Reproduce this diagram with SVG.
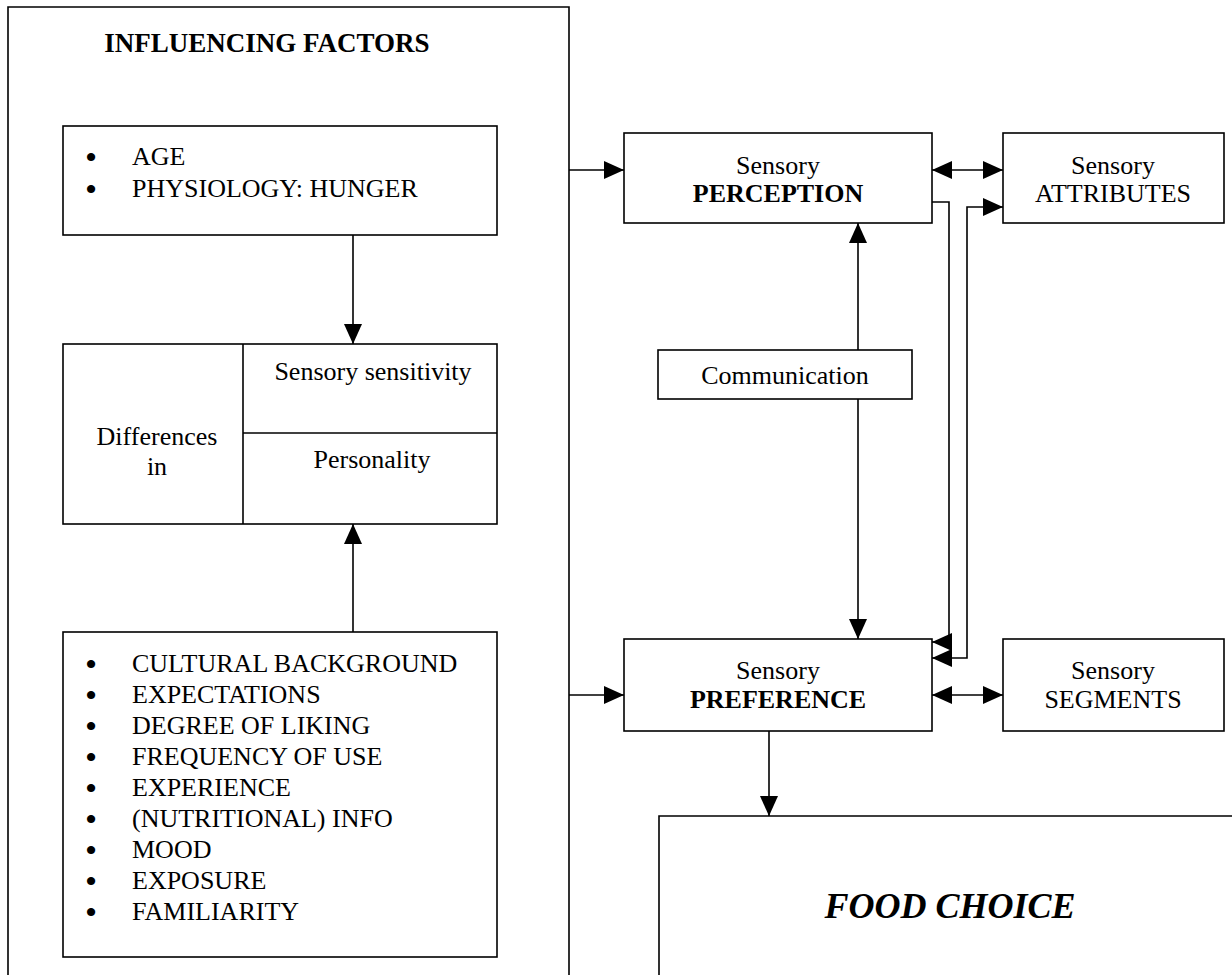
<svg xmlns="http://www.w3.org/2000/svg" width="1232" height="975" viewBox="0 0 1232 975">
  <style>
    .box { fill: #fff; stroke: #000; stroke-width: 1.6; }
    .open { fill: none; stroke: #000; stroke-width: 1.6; }
    .line { fill: none; stroke: #000; stroke-width: 1.6; }
    .t { font-family: "Liberation Serif", "Times New Roman", serif; font-size: 26px; fill: #000; }
    .dot { font-family: "Liberation Serif", "Times New Roman", serif; font-size: 26px; fill: #000; stroke: #000; stroke-width: 2; text-anchor: middle; }
    .c { text-anchor: middle; }
    .b { font-weight: bold; }
    .big { font-size: 36px; font-weight: bold; font-style: italic; }
  </style>
  <defs>
    <marker id="arrow" markerUnits="userSpaceOnUse" markerWidth="21" markerHeight="19" refX="20" refY="9" orient="auto-start-reverse">
      <path d="M0,0 L20,9 L0,18 Z" fill="#000"/>
    </marker>
  </defs>

  <!-- left panel: influencing factors (open at the bottom) -->
  <g id="influencing-factors">
    <path class="open" d="M8,975 V7 H569 V975"/>
    <text class="t b c" x="267" y="52" style="font-size:27px">INFLUENCING FACTORS</text>
  </g>

  <g id="age-physiology">
    <rect class="box" x="63" y="126" width="434" height="109"/>
    <text class="dot" x="91" y="166">•</text>
    <text class="t" x="132" y="165">AGE</text>
    <text class="dot" x="91" y="198">•</text>
    <text class="t" x="132" y="197">PHYSIOLOGY: HUNGER</text>
  </g>

  <g id="differences">
    <rect class="box" x="63" y="344" width="434" height="180"/>
    <line class="line" x1="243" y1="344" x2="243" y2="524"/>
    <line class="line" x1="243" y1="433" x2="497" y2="433"/>
    <text class="t c" x="157" y="445">Differences</text>
    <text class="t c" x="157" y="475">in</text>
    <text class="t c" x="373" y="380">Sensory sensitivity</text>
    <text class="t c" x="372" y="468">Personality</text>
  </g>

  <g id="background-factors">
    <rect class="box" x="63" y="632" width="434" height="325"/>
    <g>
      <text class="dot" x="91" y="673">•</text>
      <text class="dot" x="91" y="704">•</text>
      <text class="dot" x="91" y="735">•</text>
      <text class="dot" x="91" y="766">•</text>
      <text class="dot" x="91" y="797">•</text>
      <text class="dot" x="91" y="828">•</text>
      <text class="dot" x="91" y="859">•</text>
      <text class="dot" x="91" y="890">•</text>
      <text class="dot" x="91" y="921">•</text>
    </g>
    <g class="t">
      <text x="132" y="672">CULTURAL BACKGROUND</text>
      <text x="132" y="703">EXPECTATIONS</text>
      <text x="132" y="734">DEGREE OF LIKING</text>
      <text x="132" y="765">FREQUENCY OF USE</text>
      <text x="132" y="796">EXPERIENCE</text>
      <text x="132" y="827">(NUTRITIONAL) INFO</text>
      <text x="132" y="858">MOOD</text>
      <text x="132" y="889">EXPOSURE</text>
      <text x="132" y="920">FAMILIARITY</text>
    </g>
  </g>

  <g id="perception">
    <rect class="box" x="624" y="133" width="308" height="90"/>
    <text class="t c" x="778" y="174">Sensory</text>
    <text class="t c b" x="778" y="202">PERCEPTION</text>
  </g>

  <g id="attributes">
    <rect class="box" x="1003" y="133" width="221" height="90"/>
    <text class="t c" x="1113" y="174">Sensory</text>
    <text class="t c" x="1113" y="202">ATTRIBUTES</text>
  </g>

  <g id="communication">
    <rect class="box" x="658" y="350" width="254" height="49"/>
    <text class="t c" x="785" y="384">Communication</text>
  </g>

  <g id="preference">
    <rect class="box" x="624" y="639" width="308" height="92"/>
    <text class="t c" x="778" y="679">Sensory</text>
    <text class="t c b" x="778" y="708">PREFERENCE</text>
  </g>

  <g id="segments">
    <rect class="box" x="1003" y="639" width="221" height="92"/>
    <text class="t c" x="1113" y="679">Sensory</text>
    <text class="t c" x="1113" y="708">SEGMENTS</text>
  </g>

  <!-- food choice panel runs off the right and bottom edges -->
  <g id="food-choice">
    <path class="open" d="M659,975 V816 H1232"/>
    <text class="t big c" x="950" y="918">FOOD CHOICE</text>
  </g>

  <g id="connectors">
    <line class="line" x1="353" y1="235" x2="353" y2="344" marker-end="url(#arrow)"/>
    <line class="line" x1="353" y1="632" x2="353" y2="524" marker-end="url(#arrow)"/>
    <line class="line" x1="569" y1="170" x2="624" y2="170" marker-end="url(#arrow)"/>
    <line class="line" x1="569" y1="695" x2="624" y2="695" marker-end="url(#arrow)"/>
    <line class="line" x1="932" y1="170" x2="1003" y2="170" marker-start="url(#arrow)" marker-end="url(#arrow)"/>
    <line class="line" x1="932" y1="695" x2="1003" y2="695" marker-start="url(#arrow)" marker-end="url(#arrow)"/>
    <line class="line" x1="858" y1="350" x2="858" y2="223" marker-end="url(#arrow)"/>
    <line class="line" x1="858" y1="399" x2="858" y2="639" marker-end="url(#arrow)"/>
    <path class="line" d="M932,202 H949 V642 H932" marker-end="url(#arrow)"/>
    <path class="line" d="M932,658 H967 V207 H1003" marker-start="url(#arrow)" marker-end="url(#arrow)"/>
    <line class="line" x1="769" y1="731" x2="769" y2="816" marker-end="url(#arrow)"/>
  </g>
</svg>
